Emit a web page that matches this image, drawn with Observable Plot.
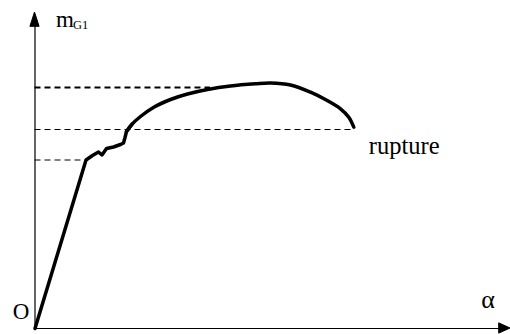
<!DOCTYPE html>
<html>
<head>
<meta charset="utf-8">
<script src="https://cdn.jsdelivr.net/npm/d3@7"></script>
<script src="https://cdn.jsdelivr.net/npm/@observablehq/plot@0.6"></script>
<style>
  html, body { margin: 0; padding: 0; background: #fff; }
  svg { display: block; overflow: visible; }
</style>
</head>
<body>
<div id="chart"></div>
<script>
// Elastic branch (straight line + jagged part)
const elasticAlpha = [0, 1.073, 1.209, 1.335, 1.409, 1.504, 1.651, 1.798, 1.861, 1.893, 1.924, 2.044];
const elasticM     = [0, 5.332, 5.475, 5.585, 5.491, 5.696, 5.744, 5.823, 5.870, 6.044, 6.234, 6.472];
// Plastic branch (smooth curve up to rupture)
const plasticAlpha = [1.924, 2.044, 2.219, 2.498, 2.850, 3.207, 3.628, 4.111, 4.637, 4.953, 5.373, 5.794, 6.145, 6.425, 6.599, 6.705];
const plasticM     = [6.234, 6.472, 6.709, 7.003, 7.247, 7.421, 7.563, 7.674, 7.744, 7.769, 7.706, 7.478, 7.215, 6.953, 6.687, 6.370];
// Dashed reference levels and where they end
const levelM     = [5.332, 6.297, 7.627];
const levelAlpha = [1.073, 6.705, 3.690];
const levelWidth = [1, 1, 1.8];
// Axis extents
const axisMaxAlpha = 10;
const axisMaxM = 10;
// Labels
const yLabel = "m";
const yLabelSub = "G1";
const xLabel = "α";
const originLabel = "O";
const ruptureLabel = "rupture";

const W = 510, H = 334, mL = 34.5, mR = 0, mT = 12, mB = 6;
const unitX = axisMaxAlpha / (W - mL - mR);   // data units per pixel
const unitY = axisMaxM / (H - mT - mB);

const elastic = elasticAlpha.map((a, i) => ({alpha: a, m: elasticM[i]}));
const plastic = plasticAlpha.map((a, i) => ({alpha: a, m: plasticM[i]}));
const levels = levelM.map((m, i) => ({m, alpha: levelAlpha[i], w: levelWidth[i]}));
const rupture = plastic[plastic.length - 1];

// filled arrowheads at the ends of the axes
const yHead = [
  {m: axisMaxM - 14 * unitY, x1: -4.5 * unitX, x2: 4.5 * unitX},
  {m: axisMaxM, x1: 0, x2: 0}
];
const xHead = [
  {alpha: axisMaxAlpha - 11 * unitX, y1: -5 * unitY, y2: 5 * unitY},
  {alpha: axisMaxAlpha, y1: 0, y2: 0}
];

const font = "Liberation Serif, Times New Roman, serif";

const chart = Plot.plot({
  width: W,
  height: H,
  marginLeft: mL,
  marginRight: mR,
  marginTop: mT,
  marginBottom: mB,
  x: {domain: [0, axisMaxAlpha], axis: null},
  y: {domain: [0, axisMaxM], axis: null},
  style: {background: "#fff", fontFamily: font},
  marks: [
    // dashed levels
    ...levels.map(l => Plot.ruleY([l], {y: "m", x1: 0, x2: "alpha", stroke: "black", strokeWidth: l.w, strokeDasharray: "6,4"})),
    // axes
    Plot.ruleX([0], {y1: 0, y2: axisMaxM - 0.2, stroke: "black", strokeWidth: 1.2}),
    Plot.ruleY([0], {x1: 0, x2: axisMaxAlpha - 0.1, stroke: "black", strokeWidth: 1.2}),
    Plot.areaX(yHead, {y: "m", x1: "x1", x2: "x2", fill: "black", stroke: "black", strokeWidth: 1, strokeLinejoin: "miter"}),
    Plot.areaY(xHead, {x: "alpha", y1: "y1", y2: "y2", fill: "black", stroke: "black", strokeWidth: 1, strokeLinejoin: "miter"}),
    // curve
    Plot.line(elastic, {x: "alpha", y: "m", stroke: "black", strokeWidth: 3.5, strokeLinejoin: "round", strokeLinecap: "round"}),
    Plot.line(plastic, {x: "alpha", y: "m", stroke: "black", strokeWidth: 3.5, curve: "catmull-rom", strokeLinecap: "round"}),
    // labels
    Plot.text([yLabel], {x: () => 0, y: () => axisMaxM, text: d => d, textAnchor: "start", dx: 21, dy: 7.5, fontSize: 23, fill: "black"}),
    Plot.text([yLabelSub], {x: () => 0, y: () => axisMaxM, text: d => d, textAnchor: "start", dx: 38, dy: 12.5, fontSize: 12.5, fill: "black"}),
    Plot.text([xLabel], {x: () => axisMaxAlpha, y: () => 0, text: d => d, dx: -22.5, dy: -29, fontSize: 26, fill: "black"}),
    Plot.text([originLabel], {x: () => 0, y: () => 0, text: d => d, dx: -14, dy: -17, fontSize: 23, fill: "black"}),
    Plot.text([ruptureLabel], {x: () => rupture.alpha, y: () => rupture.m, text: d => d, textAnchor: "start", dx: 15, dy: 18.6, fontSize: 24.5, fill: "black"})
  ]
});
document.getElementById("chart").appendChild(chart);
</script>
</body>
</html>
